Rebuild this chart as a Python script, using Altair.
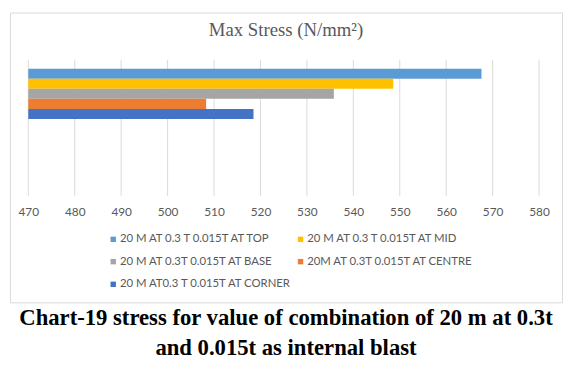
import altair as alt
import pandas as pd

# ---- data ----
series = [
    "20 M AT 0.3 T 0.015T AT TOP",
    "20 M AT 0.3 T 0.015T AT MID",
    "20 M AT 0.3T 0.015T AT BASE",
    "20M AT 0.3T 0.015T AT CENTRE",
    "20 M AT0.3 T 0.015T AT CORNER",
]
stress = [567.6, 548.6, 535.8, 508.3, 518.5]
colors = ["#5B9BD5", "#FFC000", "#A5A5A5", "#ED7D31", "#4472C4"]
tick_values = [470, 480, 490, 500, 510, 520, 530, 540, 550, 560, 570, 580]
axis_min = 470
axis_max = 580
chart_title = "Max Stress (N/mm\u00b2)"
caption = [
    "Chart-19 stress for value of combination of 20 m at 0.3t",
    "and 0.015t as internal blast",
]

# ---- layout ----
W, H = 560, 294
LABEL_FONT = "Lato"
GRAY = "#595959"

df = pd.DataFrame({"series": series, "stress": stress})
grid_df = pd.DataFrame({"tick": tick_values})

xscale = alt.Scale(domain=[axis_min, axis_max], range=[18.6, 536.7], zero=False, nice=False)
xaxis = alt.Axis(
    values=tick_values, grid=False, ticks=False, domain=False, title=None,
    labelFont=LABEL_FONT, labelFontSize=12, labelColor=GRAY,
    labelFlush=False, labelOverlap=False,
    offset=-99, labelPadding=2,
)

grid = alt.Chart(grid_df).mark_rule(color="#d9d9d9", strokeWidth=1).encode(
    x=alt.X("tick:Q", scale=xscale, axis=xaxis),
    y=alt.value(48),
    y2=alt.value(186),
)

bars = alt.Chart(df).mark_bar().encode(
    x=alt.X("stress:Q", scale=xscale, axis=xaxis),
    x2=alt.datum(axis_min),
    y=alt.Y(
        "series:N", sort=series, axis=None,
        scale=alt.Scale(domain=series, range=[57, 108], paddingInner=0, paddingOuter=0),
    ),
    color=alt.Color(
        "series:N",
        scale=alt.Scale(domain=series, range=colors),
        legend=alt.Legend(
            orient="none", legendX=99, legendY=224, columns=2, direction="horizontal",
            title=None, symbolType="square", symbolSize=30, symbolStrokeWidth=0,
            labelFont=LABEL_FONT, labelFontSize=11.5, labelColor=GRAY,
            labelOffset=1, columnPadding=2, rowPadding=10, labelLimit=400,
        ),
    ),
)

main = alt.layer(grid, bars).properties(
    width=W,
    height=H,
    title=alt.Title(
        chart_title, font="Liberation Serif", fontSize=19, fontWeight="normal",
        color=GRAY, offset=-28, anchor="middle",
    ),
)

chart = alt.vconcat(
    main,
    title=alt.Title(
        caption, orient="bottom", font="Liberation Serif", fontSize=23,
        fontWeight="bold", color="#000000", lineHeight=31, offset=4, anchor="middle",
    ),
).resolve_legend(color="independent").properties(padding=1).configure_view(
    stroke="#d9d9d9", strokeWidth=1
)

chart.save("out.html", embed_options={"renderer": "svg", "actions": False})
